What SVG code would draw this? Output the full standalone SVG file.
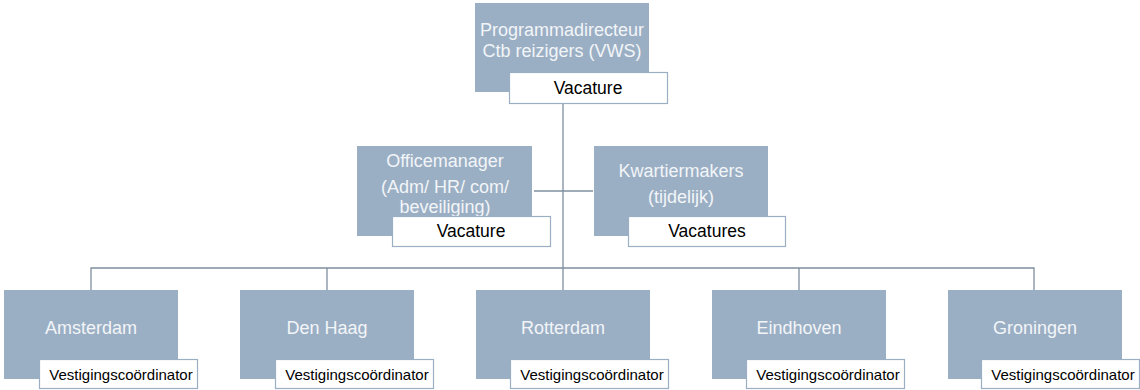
<svg xmlns="http://www.w3.org/2000/svg" width="1140" height="390" viewBox="0 0 1140 390">
<style>
.box{fill:#9bafc4}
.lab{fill:#ffffff;stroke:#9bafc4;stroke-width:1.2}
.t{font-family:"Liberation Sans",Arial,sans-serif;font-size:18px;fill:#f2f5f8;text-anchor:middle}
.l{font-family:"Liberation Sans",Arial,sans-serif;font-size:17.5px;fill:#000;text-anchor:middle}
.s{font-family:"Liberation Sans",Arial,sans-serif;font-size:15px;fill:#000;text-anchor:middle}
.c{stroke:#7f8f9f;stroke-width:1.3;fill:none}
</style>
<rect width="1140" height="390" fill="#fff"/>
<g id="connectors">
<path class="c" d="M563 104V268"/>
<path class="c" d="M534 191H593"/>
<path class="c" d="M91 290V268H1034V290"/>
<path class="c" d="M327 268V290M563 268V290M799 268V290"/>
</g>
<g id="programmadirecteur">
<rect class="box" x="475" y="3" width="174" height="89"/>
<text class="t" x="562" y="36">Programmadirecteur</text>
<text class="t" x="562" y="57">Ctb reizigers (VWS)</text>
<rect class="lab" x="509.5" y="72.5" width="158" height="31"/>
<text class="l" x="588" y="94">Vacature</text>
</g>
<g id="officemanager">
<rect class="box" x="357" y="146" width="175" height="90"/>
<text class="t" x="445" y="167">Officemanager</text>
<text class="t" x="445" y="193">(Adm/ HR/ com/</text>
<text class="t" x="445" y="213">beveiliging)</text>
<rect class="lab" x="392.5" y="216.5" width="158" height="30"/>
<text class="l" x="471" y="237">Vacature</text>
</g>
<g id="kwartiermakers">
<rect class="box" x="594" y="146" width="174" height="90"/>
<text class="t" x="681" y="177">Kwartiermakers</text>
<text class="t" x="681" y="203">(tijdelijk)</text>
<rect class="lab" x="628.5" y="216.5" width="157" height="30"/>
<text class="l" x="707" y="237">Vacatures</text>
</g>
<g id="amsterdam">
<rect class="box" x="4" y="290" width="174" height="89"/>
<text class="t" x="91" y="334">Amsterdam</text>
<rect class="lab" x="39.5" y="359.5" width="158" height="29"/>
<text class="s" x="121" y="380">Vestigingscoördinator</text>
</g>
<g id="denhaag">
<rect class="box" x="240" y="290" width="174" height="89"/>
<text class="t" x="327" y="334">Den Haag</text>
<rect class="lab" x="275.5" y="359.5" width="158" height="29"/>
<text class="s" x="357" y="380">Vestigingscoördinator</text>
</g>
<g id="rotterdam">
<rect class="box" x="476" y="290" width="174" height="89"/>
<text class="t" x="563" y="334">Rotterdam</text>
<rect class="lab" x="510.5" y="359.5" width="158" height="29"/>
<text class="s" x="592" y="380">Vestigingscoördinator</text>
</g>
<g id="eindhoven">
<rect class="box" x="712" y="290" width="174" height="89"/>
<text class="t" x="799" y="334">Eindhoven</text>
<rect class="lab" x="746.5" y="359.5" width="158" height="29"/>
<text class="s" x="828" y="380">Vestigingscoördinator</text>
</g>
<g id="groningen">
<rect class="box" x="948" y="290" width="174" height="89"/>
<text class="t" x="1035" y="334">Groningen</text>
<rect class="lab" x="981.5" y="359.5" width="158" height="29"/>
<text class="s" x="1063" y="380">Vestigingscoördinator</text>
</g>
</svg>
